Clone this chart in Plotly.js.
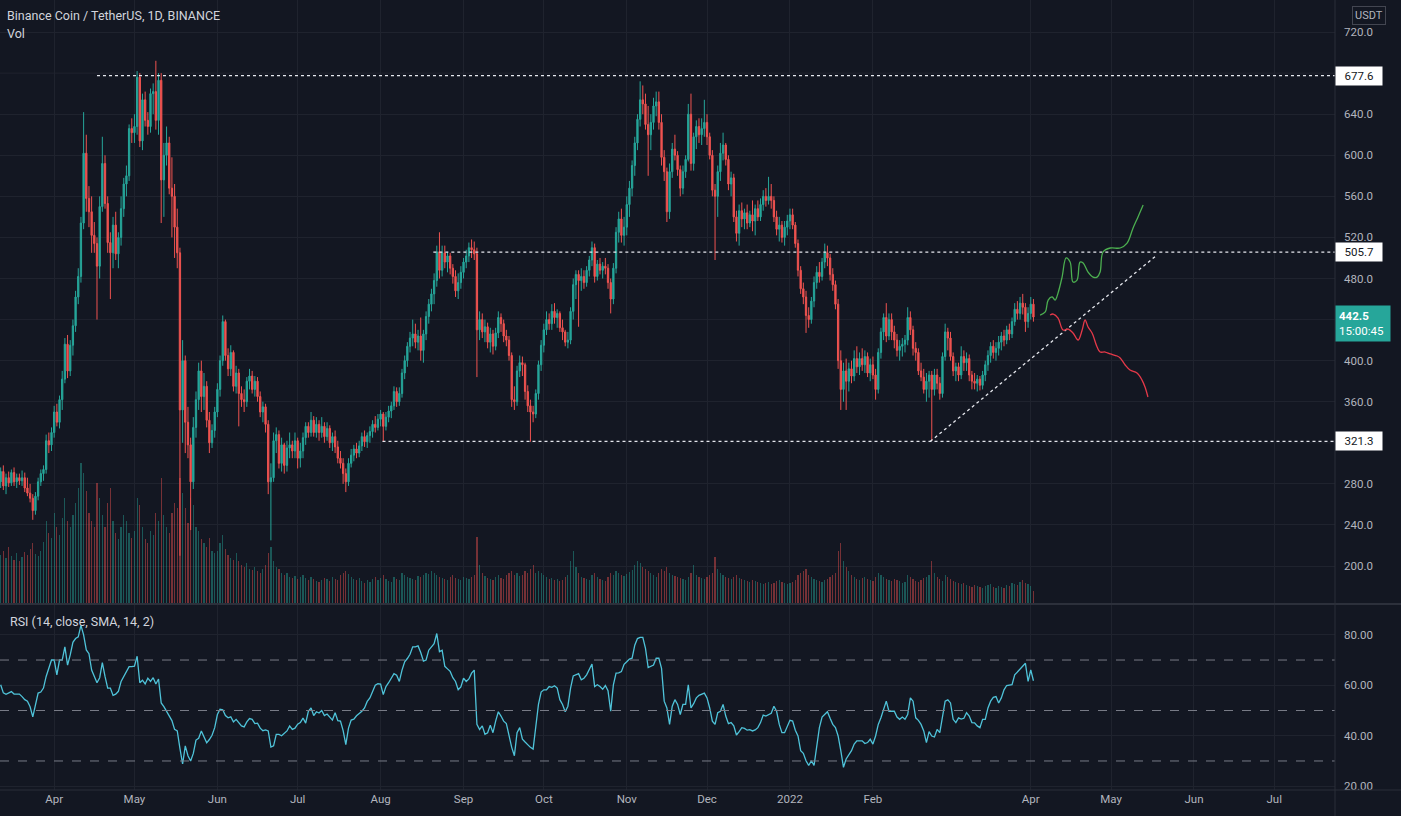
<!DOCTYPE html>
<html><head><meta charset="utf-8">
<script src="https://cdn.plot.ly/plotly-3.0.1.min.js"></script>
<style>html,body{margin:0;padding:0;background:#131722;}#chart{width:1401px;height:816px;}</style>
</head><body><div id="chart"></div>
<script>
const startDate = [2021, 2, 12];
const opens = [
282,292,278,286,281,291,282,286,283,286, 276,271,266,254,268,282,290,294,322,318,
330,350,340,362,382,416,390,415,434,462, 482,534,602,558,545,522,514,492,550,592,
553,515,505,532,504,520,548,572,580,626, 622,628,676,614,654,634,628,660,662,634,
673,576,600,612,568,560,530,505,352,400, 340,318,282,335,362,390,365,375,342,320,
332,350,372,400,438,405,392,408,375,388, 368,362,360,380,385,372,380,365,350,355,
338,282,286,322,328,300,318,298,315,318, 312,322,305,312,325,336,330,342,330,338,
330,336,326,334,320,326,316,305,300,290, 282,300,308,314,310,317,326,321,327,331,
338,335,343,348,336,345,351,356,370,360, 368,388,400,414,422,426,418,424,410,426,
443,455,465,478,506,488,505,496,502,490, 482,468,476,486,496,502,510,508,504,430,
440,428,433,418,426,414,427,442,436,424, 420,405,362,360,390,398,396,370,356,350,
348,368,396,415,430,440,436,448,442,446, 432,428,418,420,448,474,484,478,482,476,
488,498,510,482,494,488,492,490,476,460, 490,525,538,522,530,552,568,590,612,635,
654,650,630,620,632,648,652,632,598,584, 545,584,606,600,586,568,584,596,640,592,
618,628,620,626,632,618,600,566,560,584, 602,610,596,572,578,540,524,546,538,544,
534,542,536,548,540,552,560,556,560,556, 540,528,532,520,530,536,542,532,514,488,
470,462,444,440,458,476,486,482,496,505, 500,484,474,455,400,372,390,380,392,385,
402,394,402,396,404,388,396,386,372,408, 428,442,424,440,428,420,410,414,416,420,
442,430,412,408,390,384,372,380,386,372, 386,378,368,404,428,422,404,390,394,386,
404,398,402,386,380,378,382,376,386,396, 405,414,408,412,418,424,420,430,426,438,
450,446,456,452,438,446,455];
const highs = [
296,298,290,292,294,296,290,290,293,291, 286,280,270,272,286,294,298,328,330,335,
356,358,366,390,422,425,420,440,468,490, 540,642,620,570,560,535,520,560,618,600,
560,525,540,545,525,560,578,590,630,636, 640,682,680,660,662,642,665,670,692,680,
680,612,628,618,598,572,548,510,420,405, 355,325,345,370,398,400,388,380,350,338,
355,378,405,444,440,412,415,410,395,392, 375,372,384,392,390,385,384,370,360,358,
342,300,330,335,332,325,320,322,330,322, 330,325,320,330,340,340,350,346,345,342,
345,340,340,337,330,332,322,312,305,295, 305,314,318,320,322,330,332,330,336,342,
346,348,352,350,350,356,360,375,374,374, 392,405,418,428,440,436,430,442,430,448,
460,470,485,512,525,512,512,506,505,494, 488,485,492,500,508,515,518,516,510,448,
446,440,437,432,430,432,448,446,440,430, 424,408,375,395,405,404,398,376,362,356,
372,400,420,436,448,446,455,456,450,448, 440,430,428,452,480,488,488,490,488,492,
502,516,514,498,500,496,500,494,480,495, 530,545,548,540,560,575,595,618,640,672,
668,660,648,640,656,662,662,640,605,588, 592,612,620,604,590,590,600,650,660,622,
634,636,636,654,640,622,605,572,590,612, 622,612,600,584,582,546,552,554,548,552,
546,556,552,556,558,566,568,579,572,560, 546,540,536,536,542,548,548,535,518,492,
476,468,452,462,482,492,496,500,514,512, 504,490,478,460,410,398,402,398,400,410,
414,408,412,410,408,402,404,392,412,432, 446,456,446,446,434,426,420,422,425,452,
448,434,418,412,398,392,388,390,390,392, 392,384,408,436,432,428,408,398,398,414,
410,408,406,390,388,386,385,390,400,410, 418,420,418,424,428,430,434,436,442,456,
458,462,465,456,452,462,460];
const lows = [
276,274,270,277,278,278,276,279,278,272, 268,262,245,250,264,278,283,290,310,312,
325,336,334,352,378,383,385,405,428,455, 476,528,545,530,505,505,440,480,545,548,
505,460,490,498,490,512,540,560,575,612, 612,620,608,605,628,620,622,640,625,620,
534,540,590,562,520,500,490,210,320,310, 305,235,275,325,352,350,352,335,310,315,
325,345,365,395,400,385,385,370,368,336, 355,350,355,372,368,365,360,345,340,330,
270,225,282,310,295,292,290,292,305,305, 305,295,296,305,318,325,326,326,325,322,
325,320,322,315,312,310,300,295,280,272, 278,296,302,305,306,312,316,315,320,325,
330,332,336,321,332,340,344,352,355,356, 364,382,394,408,414,412,410,400,398,420,
436,448,455,472,480,482,490,486,484,475, 462,460,470,480,490,496,500,498,384,420,
422,418,412,408,406,410,422,428,418,414, 400,355,352,356,384,385,362,350,321,340,
344,362,390,408,425,430,430,436,432,428, 420,414,412,416,440,460,433,468,470,472,
482,492,476,478,484,480,484,470,446,455, 485,515,515,512,522,540,560,580,605,628,
640,625,580,605,625,638,625,590,575,535, 538,578,595,580,560,562,578,594,585,585,
606,612,610,618,610,596,560,498,540,575, 595,590,566,560,535,516,512,530,528,528,
530,526,522,536,536,546,550,552,548,535, 522,516,515,512,522,528,528,510,482,465,
455,427,432,436,452,470,476,478,490,492, 478,468,450,392,352,360,352,370,378,380,
388,386,390,388,384,380,382,362,368,402, 420,418,420,420,412,404,400,404,408,415,
425,405,400,386,380,368,360,364,322,366, 372,362,364,400,410,400,385,380,380,382,
390,390,380,372,372,370,371,372,380,390, 398,402,400,405,410,414,416,420,422,434,
440,440,445,428,432,440,438];
const closes = [
292,278,286,281,291,282,286,283,286,276, 271,266,254,268,282,290,294,322,318,330,
350,340,362,382,416,390,415,434,462,482, 534,602,558,545,522,514,492,550,592,553,
515,505,532,504,520,548,572,580,626,622, 628,676,614,654,634,628,660,662,634,673,
576,600,612,568,560,530,505,352,400,340, 318,282,335,362,390,365,375,342,320,332,
350,372,400,438,405,392,408,375,388,368, 362,360,380,385,372,380,365,350,355,338,
282,286,322,328,300,318,298,315,318,312, 322,305,312,325,336,330,342,330,338,330,
336,326,334,320,326,316,305,300,290,282, 300,308,314,310,317,326,321,327,331,338,
335,343,348,336,345,351,356,370,360,368, 388,400,414,422,426,418,424,410,426,443,
455,465,478,506,488,505,496,502,490,482, 468,476,486,496,502,510,508,504,430,440,
428,433,418,426,414,427,442,436,424,420, 405,362,360,390,398,396,370,356,350,348,
368,396,415,430,440,436,448,442,446,432, 428,418,420,448,474,484,478,482,476,488,
498,510,482,494,488,492,490,476,460,490, 525,538,522,530,552,568,590,612,635,654,
650,630,620,632,648,652,632,598,584,545, 584,606,600,586,568,584,596,640,592,618,
628,620,626,632,618,600,566,560,584,602, 610,596,572,578,540,524,546,538,544,534,
542,536,548,540,552,560,556,560,556,540, 528,532,520,530,536,542,532,514,488,470,
462,444,440,458,476,486,482,496,505,500, 484,474,455,400,372,390,380,392,385,402,
394,402,396,404,388,396,386,372,408,428, 442,424,440,428,420,410,414,416,420,442,
430,412,408,390,384,372,380,386,372,386, 378,368,404,428,422,404,390,394,386,404,
398,402,386,380,378,382,376,386,396,405, 414,408,412,418,424,420,430,426,438,450,
446,456,452,438,446,455,442.5];
const volumes = [
480,520,450,560,470,430,500,420,460,510,480,540,600,490,470,520,610,
820,700,650,900,760,680,850,1050,820,760,880,1000,1150,
1400,1300,1120,900,820,760,
1200,1050,880,760,1000,1150,820,700,640,760,880,820,700,650,720,
1050,980,760,640,600,720,680,900,820,1250,880,760,700,900,1000,950,
1250,1100,950,800,1050,980,760,720,640,600,560,650,520,500,
520,600,680,540,480,450,430,500,420,380,360,400,340,330,360,320,300,340,380,500,
560,420,360,340,300,280,300,260,250,270,240,260,280,250,230,260,240,220,210,230,250,240,220,260,240,230,280,300,320,290,
260,240,230,250,220,200,230,210,240,260,230,250,280,240,220,210,260,240,230,300,280,260,250,240,230,270,260,280,300,290,320,300,280,260,250,240,230,260,280,250,240,230,260,250,240,260,280,
660,380,300,270,250,240,230,260,280,250,240,280,300,320,280,300,270,280,320,300,340,380,300,
320,300,280,260,240,250,230,240,220,230,260,280,420,520,360,300,260,250,240,230,280,300,260,240,230,220,260,300,280,320,300,280,270,
290,310,330,380,420,400,360,340,320,300,280,260,300,340,320,360,300,280,270,260,250,240,230,260,300,380,280,260,250,240,
260,280,300,460,340,300,280,260,250,240,260,280,250,240,230,220,210,230,220,210,200,190,200,210,190,200,220,230,210,200,190,
200,210,230,280,300,320,340,280,260,240,230,220,210,230,240,260,280,300,520,600,420,360,320,280,260,240,230,250,260,240,230,220,
260,300,280,260,240,230,220,240,230,220,200,210,280,260,240,220,210,230,250,260,280,420,300,260,240,220,280,
260,240,220,210,200,190,200,180,170,160,180,170,160,150,170,180,190,160,150,170,160,150,180,170,200,190,180,210,230,200,190,170,120];
const rsiValues = [
60.2,57,56.4,57,57.5,56.5,56.5,56.5,55.5,54.3, 53.7,51.5,47.5,52.4,56.9,57.3,58.9,63.5,66.7,70,
70,64.1,70,70,75.2,68,72,77,78.5,79.2, 83.7,80,74,72.5,66,63.5,61,63,69,63.5,
58.9,58.9,56,56.5,57.6,61.5,63.5,66,67.4,67.4, 67.6,71.5,61,62,60.5,62.8,61.5,63,60.5,62.5,
53,51.5,49.5,48,46,42.5,41.9,35,28.8,36, 32.1,30,33,38.3,39,41.9,39.5,37.2,38.5,40.2,
43.2,48.4,50.5,50.3,48,47.1,47.5,45.5,46.5,45, 43.9,43.5,45.5,46.8,46.5,44.8,45,43,42,42.3,
41.9,35.5,36,40.5,40.5,40,41,41.9,43.9,42.5, 43,44.6,45.2,47,45,49.7,51,48,49.5,49,
50,48,48.6,47.5,46.2,49.1,46,45.8,42,36.5, 43,46.2,46.6,47.9,48.8,49.7,51,53.6,55,57.2,
60,60.6,60.5,56.3,59.5,61,62.8,64.6,64,61.5, 66,69.3,70.6,72.3,75.2,75.2,75.6,73,69.6,70,
73.9,75,76.5,80.5,73.3,73.9,67.5,66.5,65.5,63, 61.5,58.2,59.3,62.8,61.5,62.5,64.8,66,44.5,42.5,
43.9,40.6,41.2,44.2,41.2,45.8,49.5,47.8,45.8,44.8, 39.9,35.4,32.1,41.2,43.2,38.6,37.5,36.4,35.4,34.7,
43.2,52.4,57.3,58.2,58.2,59.5,59.2,59.8,58.9,54.3, 52.4,49.5,51.7,58.9,63.7,64.1,64.6,62.2,62.8,64.1,
66.3,68.4,59.5,60.2,59.5,58.4,59.9,57.8,49.7,60.2, 64.8,64.9,65.4,68.3,69.3,70.4,70.7,75.9,78.5,79,
79,74.6,67,67.4,68,70.7,70.7,66.7,53.7,51, 44.5,51.7,54.3,52.4,48.4,52.4,52.4,60.2,51,52.7,
55,56,56.5,56.9,55,51,45.8,44.5,49.1,49.7, 52.4,47.8,44.8,45.2,43.9,40.3,41.6,43.2,42.9,42.2,
42.4,41.9,42.3,43.2,45.2,48.2,47.8,48.3,48.9,51.7, 49.7,44.5,41.2,41.2,43.9,46.1,45.8,42.2,39.9,34.1,
33,30.1,28.2,30.1,28.2,36,43.2,47.4,48.4,49.5, 46.9,44.5,43.2,39.9,34.1,27.5,30.8,32.5,34.1,36.7,
38,38,38,36.9,37.3,38.6,36.7,39.9,44.5,47.1, 50,53.7,49.7,49.7,49.7,47.4,46.5,47.4,46.5,48.4,
55,53.7,47.1,46.1,44.5,41.9,37.3,41.6,39.9,39.5, 42.5,41.2,47.1,53.7,54.2,53,46.5,45.2,47.1,46.6,
46.9,49.1,47.8,45.2,45.1,43.9,43.2,46.5,46.5,51, 53.7,55.2,55.5,53,55,58.2,59.9,60.2,60.2,64.1,
65.2,66.1,67.4,68.7,61.5,66.1,61.8];

const levelPrices = [677.6, 505.7, 321.3];
const levelStarts = ['2021-04-17', '2021-08-20 17:00', '2021-08-01 17:00'];
const trendDates = ['2022-02-22 10:00', '2022-05-18 05:00'];
const trendPrices = [321.3, 502.9];
const bullPathX = ['2022-04-04 12:00','2022-04-06 10:00','2022-04-07 12:00','2022-04-09 00:00','2022-04-10 02:00','2022-04-11 05:00','2022-04-12 17:00','2022-04-14 05:00','2022-04-15 17:00','2022-04-16 19:00','2022-04-18 07:00','2022-04-19 10:00','2022-04-20 14:00','2022-04-22 10:00','2022-04-24 07:00','2022-04-25 19:00','2022-04-26 22:00','2022-04-28 00:00','2022-04-30 17:00','2022-05-04 10:00','2022-05-07 00:00','2022-05-09 05:00','2022-05-11 02:00','2022-05-13 00:00'];
const bullPathY = [444.4,447.4,459,462,459,466,481.4,500,496,476.6,478.5,496,495,486.3,481.4,481.4,486.3,505.8,509.7,509.7,514.5,529,539.9,551.5];
const bearPathX = ['2022-04-08 05:00','2022-04-09 10:00','2022-04-11 05:00','2022-04-13 02:00','2022-04-15 00:00','2022-04-16 19:00','2022-04-18 17:00','2022-04-20 05:00','2022-04-21 07:00','2022-04-22 10:00','2022-04-23 22:00','2022-04-25 19:00','2022-04-26 22:00','2022-04-28 19:00','2022-04-30 17:00','2022-05-03 07:00','2022-05-04 10:00','2022-05-06 07:00','2022-05-08 02:00','2022-05-10 17:00','2022-05-12 14:00','2022-05-13 17:00','2022-05-14 19:00'];
const bearPathY = [444.4,445.4,441.5,429.8,430.8,426.9,420.1,429.8,439.6,432.8,426.9,413.3,408.4,408.4,406.5,404.5,402.6,395.8,390.9,388,381.1,374.3,364.6];

const monthTicks = ['2021-04-01','2021-05-01','2021-06-01','2021-07-01','2021-08-01','2021-09-01','2021-10-01','2021-11-01','2021-12-01','2022-01-01','2022-02-01','2022-04-01','2022-05-01','2022-06-01','2022-07-01'];
const monthLabels = ['Apr','May','Jun','Jul','Aug','Sep','Oct','Nov','Dec','2022','Feb','Apr','May','Jun','Jul'];
const priceTicks = [200,240,280,360,400,480,520,560,600,640,720];
const hiddenPriceTicks = [320,440,680];
const rsiTicks = [20,40,60,80];
const rsiLevels = [70,50,30];
const lastPrice = 442.5;
const countdown = '15:00:45';
const xRange = ['2021-03-11 18:00','2022-07-23 17:00'];

const dates = closes.map((_, i) => new Date(Date.UTC(startDate[0], startDate[1], startDate[2] + i)).toISOString().slice(0, 10));
const UP = '#26a69a', DOWN = '#ef5350';
const volColors = closes.map((c, i) => c >= opens[i] ? 'rgba(38,166,154,0.45)' : 'rgba(239,83,80,0.45)');

const grid = '#1f232e';
const txt = '#b2b5be';
const FONT = 'Roboto, "Noto Sans", sans-serif';

const traces = [
  {type:'candlestick', x:dates, open:opens, high:highs, low:lows, close:closes, xaxis:'x', yaxis:'y',
   increasing:{line:{color:UP,width:1}, fillcolor:UP}, decreasing:{line:{color:DOWN,width:1}, fillcolor:DOWN},
   whiskerwidth:0, hoverinfo:'skip', showlegend:false},
  {type:'scatter', mode:'lines', x:dates, y:rsiValues, xaxis:'x', yaxis:'y2', line:{color:'#4fc3d9', width:1.3}, hoverinfo:'skip', showlegend:false},
  {type:'bar', x:dates, y:volumes, xaxis:'x', yaxis:'y3', marker:{color:volColors, line:{width:0}}, width:86400000*0.45, hoverinfo:'skip', showlegend:false}
];
levelPrices.forEach((p, i) => traces.push({type:'scatter', mode:'lines', x:[levelStarts[i], xRange[1]], y:[p, p], xaxis:'x', yaxis:'y',
  line:{color:'#e6e8ee', width:1.3, dash:'dot'}, hoverinfo:'skip', showlegend:false}));
traces.push({type:'scatter', mode:'lines', x:trendDates, y:trendPrices, xaxis:'x', yaxis:'y', line:{color:'#e6e8ee', width:1.3, dash:'dot'}, hoverinfo:'skip', showlegend:false});
traces.push({type:'scatter', mode:'lines', x:bullPathX, y:bullPathY, xaxis:'x', yaxis:'y', line:{color:'#4caf50', width:1.3, shape:'spline'}, hoverinfo:'skip', showlegend:false});
traces.push({type:'scatter', mode:'lines', x:bearPathX, y:bearPathY, xaxis:'x', yaxis:'y', line:{color:'#e53949', width:1.3, shape:'spline'}, hoverinfo:'skip', showlegend:false});

const H = 790; // plot area height
const priceDom = [(H - 603) / H, 1];
const rsiDom = [0, (H - 605) / H];

const shapes = [];
hiddenPriceTicks.forEach(v => shapes.push({type:'line', layer:'below', xref:'paper', yref:'y', x0:0, x1:1, y0:v, y1:v, line:{color:grid, width:1}}));
rsiLevels.forEach(v => shapes.push({type:'line', xref:'paper', yref:'y2', x0:0, x1:1, y0:v, y1:v, line:{color:'#787b86', width:1, dash:'dash'}}));
shapes.push({type:'line', xref:'paper', yref:'paper', x0:0, x1:1401/1335, y0:(H-604)/H, y1:(H-604)/H, line:{color:'#363a45', width:1.5}});
shapes.push({type:'line', xref:'paper', yref:'paper', x0:0, x1:1401/1335, y0:0, y1:0, line:{color:'#2a2e39', width:1}});
shapes.push({type:'line', xref:'paper', yref:'paper', x0:1, x1:1, y0:-26/H, y1:1, line:{color:'#2a2e39', width:1}});

const ann = [
  {xref:'paper', yref:'paper', x:5/1335, y:1 - 16/H, xanchor:'left', yanchor:'middle', showarrow:false, text:'Binance Coin / TetherUS, 1D, BINANCE', font:{family:FONT, size:12.5, color:'#d1d4dc'}},
  {xref:'paper', yref:'paper', x:5/1335, y:1 - 33/H, xanchor:'left', yanchor:'middle', showarrow:false, text:'Vol', font:{family:FONT, size:12.5, color:'#d1d4dc'}},
  {xref:'paper', yref:'paper', x:8/1335, y:1 - 621/H, xanchor:'left', yanchor:'middle', showarrow:false, text:'RSI (14, close, SMA, 14, 2)', font:{family:FONT, size:12.5, color:'#d1d4dc'}},
  {xref:'paper', yref:'paper', x:1369/1335, y:1 - 16/H, xanchor:'center', yanchor:'middle', showarrow:false, text:'USDT', bgcolor:'#131722', bordercolor:'#434651', borderwidth:1, borderpad:2, font:{family:FONT, size:11, color:txt}}
];
levelPrices.forEach(p => ann.push({xref:'paper', yref:'y', x:1, y:p, xanchor:'left', yanchor:'middle', showarrow:false, text:p.toFixed(1), width:42, align:'center', bgcolor:'#ffffff', borderpad:2, font:{family:FONT, size:11.5, color:'#131722'}}));
ann.push({xref:'paper', yref:'y', x:1, y:lastPrice, xanchor:'left', yanchor:'middle', yshift:-6, showarrow:false, text:'<b>' + lastPrice.toFixed(1) + '</b><br>' + countdown, width:48, align:'left', bgcolor:UP, borderpad:3, font:{family:FONT, size:11.5, color:'#ffffff'}});

const layout = {
  width:1401, height:816, margin:{l:0, r:66, t:0, b:26, pad:0},
  paper_bgcolor:'#131722', plot_bgcolor:'#131722',
  font:{family:FONT, color:txt, size:11.5},
  showlegend:false, hovermode:false, bargap:0,
  xaxis:{type:'date', range:xRange, anchor:'y2', domain:[0,1], tickvals:monthTicks, ticktext:monthLabels, showgrid:true, gridcolor:grid, gridwidth:1,
    zeroline:false, showline:false, ticks:'', tickfont:{family:FONT, size:11.5, color:txt}, rangeslider:{visible:false}, fixedrange:true},
  yaxis:{domain:priceDom, range:[164, 751.2], side:'right', anchor:'x', tickvals:priceTicks, tickformat:'.1f', showgrid:true, gridcolor:grid,
    zeroline:false, showline:false, ticks:'', ticklabelstandoff:8, tickfont:{family:FONT, size:11.5, color:txt}},
  yaxis2:{domain:rsiDom, range:[18.5, 91.8], side:'right', anchor:'x', tickvals:rsiTicks, tickformat:'.2f', showgrid:true, gridcolor:grid,
    zeroline:false, showline:false, ticks:'', ticklabelstandoff:8, tickfont:{family:FONT, size:11.5, color:txt}},
  yaxis3:{overlaying:'y', range:[0, 6030], visible:false, showgrid:false, zeroline:false},
  shapes:shapes, annotations:ann
};
Plotly.newPlot('chart', traces, layout, {displayModeBar:false, staticPlot:true});
</script></body></html>
